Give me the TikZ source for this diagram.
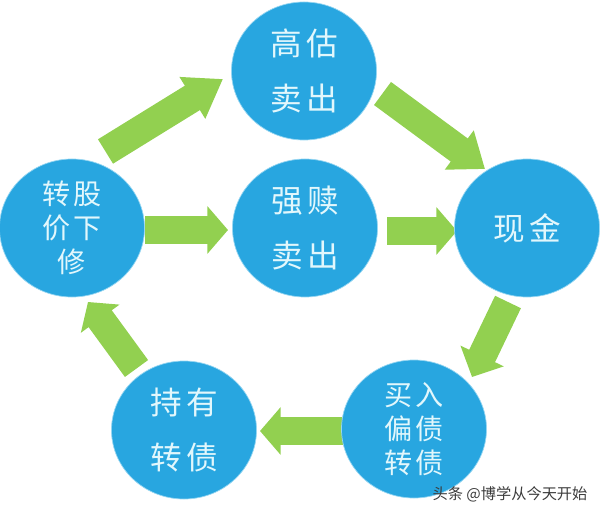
\documentclass[tikz,border=0pt]{standalone}
\usepackage{fontspec}
\setmainfont{Noto Sans CJK SC}
\usetikzlibrary{arrows.meta,calc,shapes.geometric,backgrounds}
\definecolor{bubbleblue}{RGB}{40,166,224}
\definecolor{bubbleedge}{RGB}{150,214,242}
\definecolor{bubbletext}{RGB}{226,247,252}
\definecolor{flowgreen}{RGB}{146,208,80}
\definecolor{marktext}{RGB}{60,60,60}
\newcommand{\gap}{\hspace{4pt}}
\newcommand{\tgap}{\hspace{2pt}}
\tikzset{
bubble/.style={ellipse, fill=bubbleblue, draw=bubbleedge, line width=0.6pt, minimum width=4.35cm, minimum height=4.14cm, inner sep=0pt, text=bubbletext, align=center},
bigtext/.style={font=\fontsize{27}{47}\selectfont},
smalltext/.style={font=\fontsize{24}{29}\selectfont},
flow/.style={draw=flowgreen, line width=0.86cm, -{Triangle[length=#1, width=1.40cm]}},
flow/.default=0.62cm,
marklabel/.style={font=\fontsize{13}{15}\selectfont, text=marktext}
}

\begin{document}
\begin{tikzpicture}[x=0.03cm,y=-0.03cm]

\useasboundingbox (0,0) rectangle (601,516);

\node[bubble, bigtext] (sellhigh) at (304,71) {高\gap 估\\卖\gap 出};
\node[bubble, bigtext] (redeem) at (305,228) {强\gap 赎\\卖\gap 出};
\node[bubble, bigtext] (cash) at (527,228) {现\gap 金};
\node[bubble, smalltext] (reset) at (72,228) {转\tgap 股\\价\tgap 下\\修};
\node[bubble, bigtext] (hold) at (184,430) {持\gap 有\\转\gap 债};
\node[bubble, smalltext] (buy) at (414,429) {买\tgap 入\\偏\tgap 债\\转\tgap 债};

% arrow ends, placed off the bubbles
\coordinate (liftA) at ($(reset)+(33.5,-76.5)$);
\coordinate (liftB) at ($(sellhigh)+(-81,8)$);
\coordinate (takeA) at ($(sellhigh)+(78.5,22.5)$);
\coordinate (takeB) at ($(cash)+(-42,-59)$);
\coordinate (callA) at ($(reset)+(73,2)$);
\coordinate (callB) at ($(redeem)+(-77,2)$);
\coordinate (outA) at ($(redeem)+(82,3)$);
\coordinate (outB) at ($(cash)+(-70,3)$);
\coordinate (buyA) at ($(cash)+(-19,74)$);
\coordinate (buyB) at ($(buy)+(58,-52)$);
\coordinate (keepA) at ($(buy)+(-71,2)$);
\coordinate (keepB) at ($(hold)+(76,1)$);
\coordinate (downA) at ($(hold)+(-47.5,-61.5)$);
\coordinate (downB) at ($(reset)+(16,74)$);

\begin{scope}[on background layer]
\draw[flow=1.08cm] (liftA) -- (liftB);
\draw[flow=0.96cm] (takeA) -- (takeB);
\draw[flow] (callA) -- (callB);
\draw[flow] (outA) -- (outB);
\draw[flow=0.70cm] (buyA) -- (buyB);
\draw[flow] (keepA) -- (keepB);
\draw[flow] (downA) -- (downB);
\end{scope}

\node[marklabel] (mark) at (510,494) {头条 @博学从今天开始};

\end{tikzpicture}
\end{document}
